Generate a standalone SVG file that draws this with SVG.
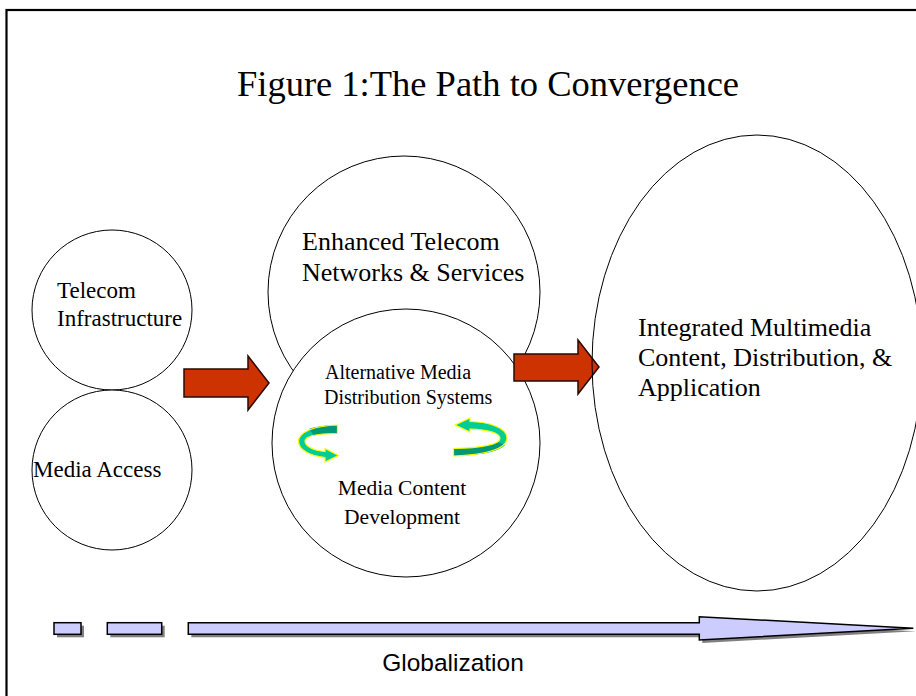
<svg xmlns="http://www.w3.org/2000/svg" width="916" height="696" viewBox="0 0 916 696">
<defs>
<style>
.circ{fill:#fff;stroke:#000;stroke-width:1}
.open{fill:none;stroke:#000;stroke-width:1}
.red{fill:#CC3300;stroke:#2a0a00;stroke-width:1.5;stroke-linejoin:miter}
.t{font-family:"Liberation Serif","Times New Roman",serif;fill:#000}
.s{font-family:"Liberation Sans",Arial,sans-serif;fill:#000}
.bar{fill:#CCCCFF;stroke:#000;stroke-width:1.5}
.shadow{fill:#808080}
.gl{fill:#00CC99}
.gd{fill:#009977}
.gs{fill:none;stroke:#FFFF00;stroke-width:1.2}
</style>
</defs>
<rect x="0" y="0" width="916" height="696" fill="#fff"/>
<rect x="6.5" y="10" width="930" height="720" fill="none" stroke="#000" stroke-width="2.2"/>
<text class="t" x="488" y="96" font-size="36.5" text-anchor="middle">Figure 1:The Path to Convergence</text>

<g id="telecom-infrastructure">
<circle class="circ" cx="112" cy="310" r="80"/>
<text class="t" x="57" y="298" font-size="23">Telecom</text>
<text class="t" x="57" y="326" font-size="23">Infrastructure</text>
</g>
<g id="media-access">
<circle class="circ" cx="112" cy="470" r="80"/>
<text class="t" x="33" y="477" font-size="23">Media Access</text>
</g>
<g id="enhanced-telecom">
<circle class="circ" cx="404" cy="292" r="136"/>
<text class="t" x="302" y="250" font-size="26">Enhanced Telecom</text>
<text class="t" x="302" y="281" font-size="26">Networks &amp; Services</text>
</g>
<g id="media-content">
<circle class="circ" cx="406" cy="443" r="134"/>
<text class="t" x="325" y="379" font-size="20">Alternative Media</text>
<text class="t" x="324" y="404" font-size="20">Distribution Systems</text>
<text class="t" x="402" y="495" font-size="21.5" text-anchor="middle">Media Content</text>
<text class="t" x="402" y="524" font-size="21.5" text-anchor="middle">Development</text>
</g>
<g id="cycle-left">
<path class="gl" d="M337.5,425 C315,425.5 299,432 298.5,441 C298.5,450 310,456 325,457.5 L325,462 L338.5,455.5 L325,448.5 L325,451.5 C313,450.5 305,446 305,441 C305,436 318,433.5 337.5,433.5 Z"/>
<path class="gd" d="M337.5,425 C325,425.2 316,426.5 309,429 L314,435.5 C320,434 328,433.5 337.5,433.5 Z"/>
<path class="gs" d="M337.5,425 C315,425.5 299,432 298.5,441 C298.5,450 310,456 325,457.5 L325,462 L338.5,455.5 L325,448.5 L325,451.5 C313,450.5 305,446 305,441 C305,436 318,433.5 337.5,433.5 Z"/>
</g>
<g id="cycle-right">
<path class="gl" d="M453.5,448.5 C482,448 500,444 500,438.5 C500,433 488,429.5 470,429 L470,432 L455,425 L470,418 L470,421.5 C490,422 507,428 507,438 C507,449 485,455 453.5,456 Z"/>
<path class="gd" d="M453.5,448.5 C476,448.3 492,446 498,442 L505,445 C498,452 481,455.3 453.5,456 Z"/>
<path class="gs" d="M453.5,448.5 C482,448 500,444 500,438.5 C500,433 488,429.5 470,429 L470,432 L455,425 L470,418 L470,421.5 C490,422 507,428 507,438 C507,449 485,455 453.5,456 Z"/>
</g>

<g id="connectors">
<path class="red" d="M184,369 L248,369 L248,356 L269,383 L248,410 L248,397 L184,397 Z"/>
<path class="red" d="M514,354 L578,354 L578,340 L599,367 L578,394 L578,381 L514,381 Z"/>
</g>

<g id="integrated-multimedia">
<ellipse class="open" cx="757" cy="363" rx="165" ry="228"/>
<text class="t" x="638" y="336" font-size="26">Integrated Multimedia</text>
<text class="t" x="638" y="366" font-size="26">Content, Distribution, &amp;</text>
<text class="t" x="638" y="396" font-size="26">Application</text>
</g>

<g id="globalization">
<rect class="shadow" x="57" y="625.7" width="27" height="11.6"/>
<rect class="shadow" x="110.3" y="625.7" width="54.4" height="11.6"/>
<path class="shadow" d="M191.3,625.7 L702.3,625.7 L702.3,619.7 L916,631.3 L702.3,643 L702.3,637.3 L191.3,637.3 Z"/>
<rect class="bar" x="54" y="622.7" width="27" height="11.6"/>
<rect class="bar" x="107.3" y="622.7" width="54.4" height="11.6"/>
<path class="bar" d="M188.3,622.7 L699.3,622.7 L699.3,616.7 L913.3,628.3 L699.3,640 L699.3,634.3 L188.3,634.3 Z"/>
<text class="s" x="453" y="671" font-size="24.5" text-anchor="middle">Globalization</text>
</g>
</svg>
